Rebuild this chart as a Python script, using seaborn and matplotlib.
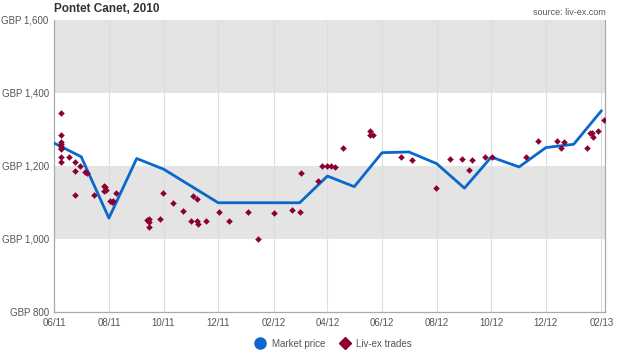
import matplotlib
matplotlib.use("Agg")
import matplotlib.pyplot as plt
import matplotlib.dates as mdates
from matplotlib.lines import Line2D
from matplotlib.ticker import FuncFormatter
import seaborn as sns
import pandas as pd

# Market price (monthly)
market_dates = ["2011-06-01", "2011-07-01", "2011-08-01", "2011-09-01", "2011-10-01",
                "2011-12-01", "2012-03-01", "2012-04-01", "2012-05-01", "2012-06-01",
                "2012-07-01", "2012-08-01", "2012-09-01", "2012-10-01", "2012-11-01",
                "2012-12-01", "2013-01-01", "2013-02-01"]
market_price = [1262, 1225, 1057, 1220, 1191, 1099, 1099, 1172, 1143, 1236,
                1238, 1206, 1139, 1224, 1197, 1250, 1259, 1351]

# Liv-ex trades
trade_dates = ["2011-06-08", "2011-06-08", "2011-06-08", "2011-06-08", "2011-06-08",
               "2011-06-08", "2011-06-08", "2011-06-08", "2011-06-08",
               "2011-06-17", "2011-06-24", "2011-06-24", "2011-06-24", "2011-06-30",
               "2011-07-05", "2011-07-07", "2011-07-15", "2011-07-26", "2011-07-27",
               "2011-07-28", "2011-07-29", "2011-08-02", "2011-08-04", "2011-08-05",
               "2011-08-09", "2011-09-13", "2011-09-15", "2011-09-15", "2011-09-15",
               "2011-09-27", "2011-09-30", "2011-10-11", "2011-10-23", "2011-11-01",
               "2011-11-03", "2011-11-07", "2011-11-07", "2011-11-08", "2011-11-17",
               "2011-12-02", "2011-12-13", "2012-01-03", "2012-01-14", "2012-02-01",
               "2012-02-21", "2012-03-01", "2012-03-02", "2012-03-21", "2012-03-26",
               "2012-03-31", "2012-04-05", "2012-04-10", "2012-04-18", "2012-05-18",
               "2012-05-18", "2012-05-22", "2012-06-22", "2012-07-05", "2012-07-31",
               "2012-08-16", "2012-08-29", "2012-09-06", "2012-09-10", "2012-09-24",
               "2012-10-02", "2012-11-09", "2012-11-22", "2012-12-13", "2012-12-18",
               "2012-12-21", "2013-01-16", "2013-01-19", "2013-01-22", "2013-01-23",
               "2013-01-28", "2013-02-04"]
trade_price = [1344, 1285, 1264, 1259, 1255, 1250, 1246, 1225, 1210,
               1224, 1210, 1186, 1119, 1200,
               1184, 1180, 1121, 1145, 1132,
               1141, 1134, 1104, 1100, 1104,
               1125, 1052, 1047, 1055, 1033,
               1055, 1126, 1099, 1076, 1048,
               1118, 1048, 1110, 1041, 1048,
               1073, 1048, 1073, 999, 1071,
               1080, 1073, 1180, 1159, 1200,
               1200, 1200, 1196, 1250, 1296,
               1285, 1285, 1225, 1215, 1139,
               1219, 1219, 1189, 1216, 1225,
               1225, 1225, 1268, 1268, 1249,
               1266, 1249, 1290, 1290, 1279,
               1295, 1326]

tick_months = ["2011-06-01", "2011-08-01", "2011-10-01", "2011-12-01", "2012-02-01",
               "2012-04-01", "2012-06-01", "2012-08-01", "2012-10-01", "2012-12-01",
               "2013-02-01"]
y_ticks = [800, 1000, 1200, 1400, 1600]

line_color = "#0a68cc"
dot_color = "#8a0034"
band_color = "#e4e4e4"
text_color = "#555555"

market = pd.DataFrame({"date": pd.to_datetime(market_dates), "price": market_price})
trades = pd.DataFrame({"date": pd.to_datetime(trade_dates), "price": trade_price})

sns.set_style("white")
plt.rcParams["font.family"] = ["Liberation Sans", "DejaVu Sans"]

fig = plt.figure(figsize=(6.17, 3.56), dpi=100)
ax = fig.add_axes([0.088, 0.1236, 0.8926, 0.8211])

# alternating bands
ax.axhspan(1000, 1200, color=band_color, zorder=0, lw=0)
ax.axhspan(1400, 1600, color=band_color, zorder=0, lw=0)

ticks = pd.to_datetime(tick_months)
for t in ticks[1:]:
    ax.axvline(t, color="#dddddd", lw=0.8, zorder=0.5)

sns.lineplot(data=market, x="date", y="price", ax=ax, color=line_color,
             lw=2.0, zorder=3, legend=False)
sns.scatterplot(data=trades, x="date", y="price", ax=ax, color=dot_color,
                marker="D", s=9, edgecolor=dot_color, linewidth=0.3,
                zorder=4, legend=False)

ax.set_xlim(pd.Timestamp("2011-06-01"), pd.Timestamp("2013-02-05"))
ax.set_ylim(800, 1600)
ax.set_xticks(ticks)
ax.xaxis.set_major_formatter(mdates.DateFormatter("%m/%y"))
ax.set_yticks(y_ticks)
ax.yaxis.set_major_formatter(FuncFormatter(lambda v, p: f"GBP {int(v):,}"))
ax.tick_params(axis="both", labelsize=7, length=2.5, width=0.8, pad=1.5,
               colors="#999999", labelcolor=text_color)
ax.set_xlabel("")
ax.set_ylabel("")

for side in ["left", "bottom", "right"]:
    ax.spines[side].set_visible(True)
    ax.spines[side].set_color("#aaaaaa")
    ax.spines[side].set_linewidth(0.9)
ax.spines["top"].set_visible(False)

fig.text(0.088, 0.975, "Pontet Canet, 2010", fontsize=8.5, fontweight="bold",
         color="#333333", ha="left", va="center")
fig.text(0.981, 0.966, "source: liv-ex.com", fontsize=6.5, color=text_color,
         ha="right", va="center")

handles = [
    Line2D([], [], marker="o", ls="", color=line_color, markersize=8),
    Line2D([], [], marker="D", ls="", color=dot_color, markersize=6),
]
fig.legend(handles, ["Market price", "Liv-ex trades"], loc="center",
           bbox_to_anchor=(0.54, 0.035), ncol=2, frameon=False, fontsize=7,
           labelcolor=text_color, handletextpad=0.6, columnspacing=1.4,
           handlelength=1.2)

fig.savefig("out.png", dpi=100)
